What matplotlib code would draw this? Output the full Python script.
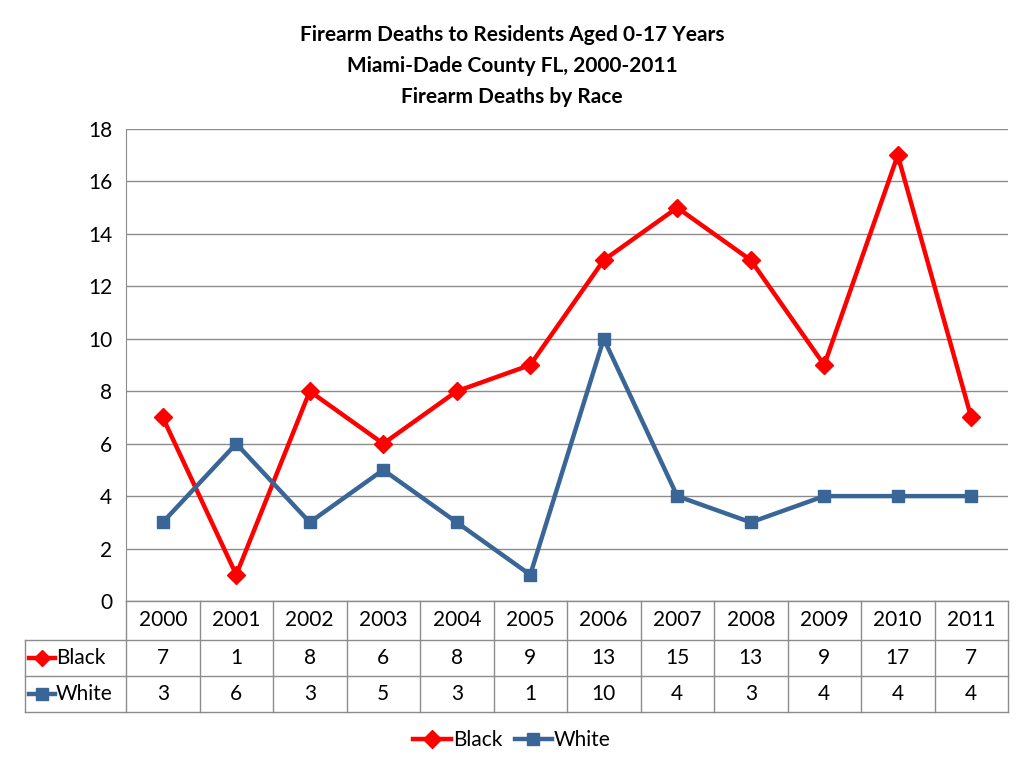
import matplotlib.pyplot as plt
from matplotlib.transforms import blended_transform_factory

years = ["2000", "2001", "2002", "2003", "2004", "2005", "2006", "2007", "2008", "2009", "2010", "2011"]
black = [7, 1, 8, 6, 8, 9, 13, 15, 13, 9, 17, 7]
white = [3, 6, 3, 5, 3, 1, 10, 4, 3, 4, 4, 4]

RED = "#FF0000"
BLUE = "#3A6597"
plt.rcParams["font.family"] = "Lato"

fig = plt.figure(figsize=(10.24, 7.68), dpi=100)
ax = fig.add_axes([126 / 1024, 1 - 601 / 768, 882 / 1024, 472 / 768])
x = list(range(len(years)))
ax.plot(x, black, color=RED, lw=3.2, marker="D", ms=9, label="Black")
ax.plot(x, white, color=BLUE, lw=3.2, marker="s", ms=9, label="White")
ax.set_xlim(-0.5, len(years) - 0.5)
ax.set_ylim(0, 18)
ax.set_yticks(range(0, 19, 2))
ax.tick_params(axis="y", labelsize=15, length=0, pad=10)
ax.set_xticks([])
ax.grid(axis="y", color="#8C8C8C", lw=1)
ax.set_axisbelow(True)
for s in ["top", "right", "bottom"]:
    ax.spines[s].set_visible(False)
ax.spines["left"].set_color("#8C8C8C")

fig.text(0.5, 1 - 35 / 768, "Firearm Deaths to Residents Aged 0-17 Years", ha="center", va="center", fontsize=15, fontweight="bold")
fig.text(0.5, 1 - 66 / 768, "Miami-Dade County FL, 2000-2011", ha="center", va="center", fontsize=15, fontweight="bold")
fig.text(0.5, 1 - 97 / 768, "Firearm Deaths by Race", ha="center", va="center", fontsize=15, fontweight="bold")

# data table
tr = blended_transform_factory(ax.transData, ax.transAxes)
def fy(p):
    return (601 - p) / 472
xl = -0.5 + (25 - 126) / 73.5
gc = "#8C8C8C"
n = len(years)
for k in range(n + 1):
    ax.plot([k - 0.5, k - 0.5], [0, fy(712)], color=gc, lw=1, transform=tr, clip_on=False)
ax.plot([xl, xl], [fy(640), fy(712)], color=gc, lw=1, transform=tr, clip_on=False)
ax.plot([-0.5, n - 0.5], [0, 0], color=gc, lw=1, transform=tr, clip_on=False)
for p in [640, 676, 712]:
    ax.plot([xl, n - 0.5], [fy(p), fy(p)], color=gc, lw=1, transform=tr, clip_on=False)
for i in range(n):
    ax.text(i, fy(620), years[i], ha="center", va="center", fontsize=15, transform=tr)
    ax.text(i, fy(658), str(black[i]), ha="center", va="center", fontsize=15, transform=tr)
    ax.text(i, fy(694), str(white[i]), ha="center", va="center", fontsize=15, transform=tr)
for p, name, c, m in [(658, "Black", RED, "D"), (694, "White", BLUE, "s")]:
    x0 = xl + 4 / 73.5
    x1 = xl + 30 / 73.5
    ax.plot([x0, x1], [fy(p), fy(p)], color=c, lw=3.2, transform=tr, clip_on=False)
    ax.plot([(x0 + x1) / 2], [fy(p)], color=c, marker=m, ms=8, transform=tr, clip_on=False)
    ax.text(x1 + 1 / 73.5, fy(p), name, ha="left", va="center", fontsize=15, transform=tr)

fig.legend(loc="center", bbox_to_anchor=(0.5, 1 - 740 / 768), ncol=2, frameon=False,
           fontsize=15, handlelength=1.8, handletextpad=0.1, columnspacing=0.6)
fig.savefig("out.png", dpi=100)
